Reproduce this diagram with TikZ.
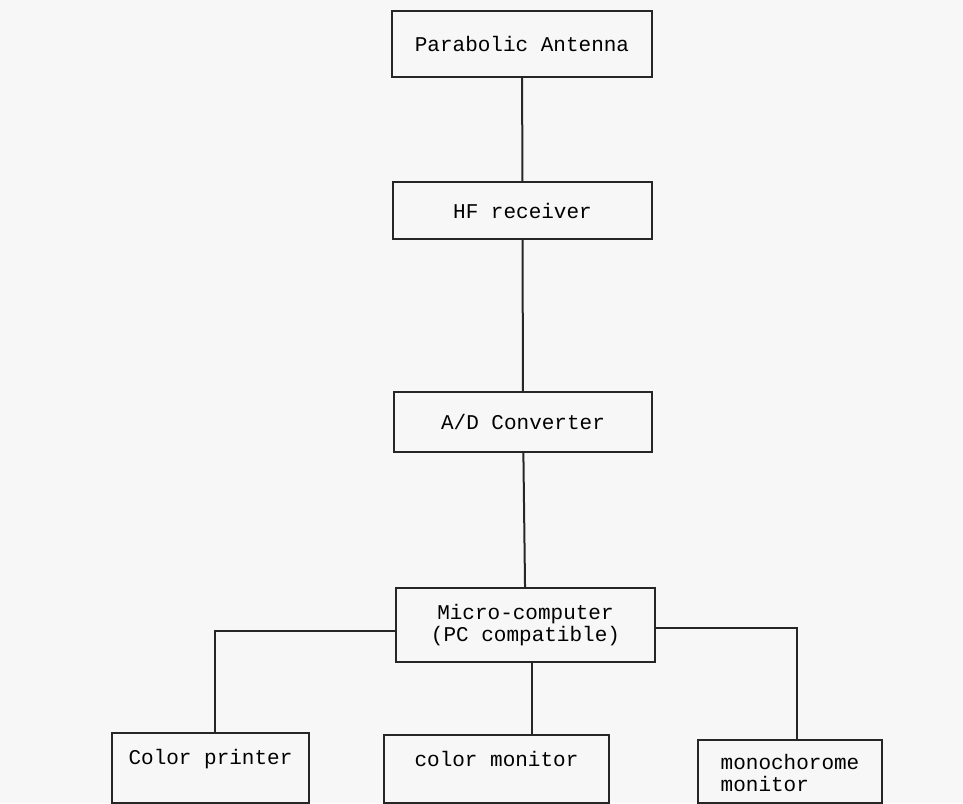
\documentclass[tikz,border=0pt]{standalone}
\usepackage{fontspec}
\setmonofont{Liberation Mono}
\begin{document}
\begin{tikzpicture}[%
  x=0.5pt,
  y=-0.5pt,
  blockstyle/.style={%
    rectangle,
    text centered,
    inner sep=0pt,
    draw=black!85,
    line width=1pt,
    font=\ttfamily\fontsize{10.5}{11}\selectfont,
  },
  devicestyle/.style={%
    blockstyle,
    align=left,
    anchor=north west,
  },
  link/.style={%
    draw=black!85,
    line width=1pt,
  }
]
  \fill [black!3] (0,0) rectangle (963,803);
  \useasboundingbox (0,0) rectangle (963,803);

  \node [blockstyle, minimum width=130pt, minimum height=33pt] (antenna) at (522,44) {Parabolic Antenna};
  \node [blockstyle, minimum width=129.5pt, minimum height=28.5pt] (hf) at (522.5,210.5) {HF receiver};
  \node [blockstyle, minimum width=129pt, minimum height=30pt] (adc) at (523,422) {A/D Converter};
  \node [blockstyle, align=center, minimum width=129.5pt, minimum height=37pt] (micro) at (525.5,625) {Micro-computer\\(PC compatible)};

  \node [devicestyle, text height=7pt, text depth=10.6pt, minimum width=98.5pt, minimum height=35pt] (printer) at (111,732) {Color printer};
  \node [devicestyle, text height=7pt, text depth=9.2pt, minimum width=112.5pt, minimum height=34pt] (cmon) at (383,734) {color monitor};
  \node [devicestyle, text height=20pt, text depth=0.1pt, minimum width=92pt, minimum height=31.5pt] (mmon) at (697,739) {monochorome\\monitor};

  \draw [link] (antenna) -- (hf);
  \draw [link] (hf) -- (adc);
  \draw [link] (adc) -- (micro);
  \draw [link] ([yshift=-3pt]micro.west) -| ([xshift=2pt]printer.north);
  \draw [link] ([xshift=3pt]micro.south) -- ([xshift=3pt]micro.south |- cmon.north);
  \draw [link] ([yshift=-1.5pt]micro.east) -| ([xshift=3.5pt]mmon.north);
\end{tikzpicture}
\end{document}
